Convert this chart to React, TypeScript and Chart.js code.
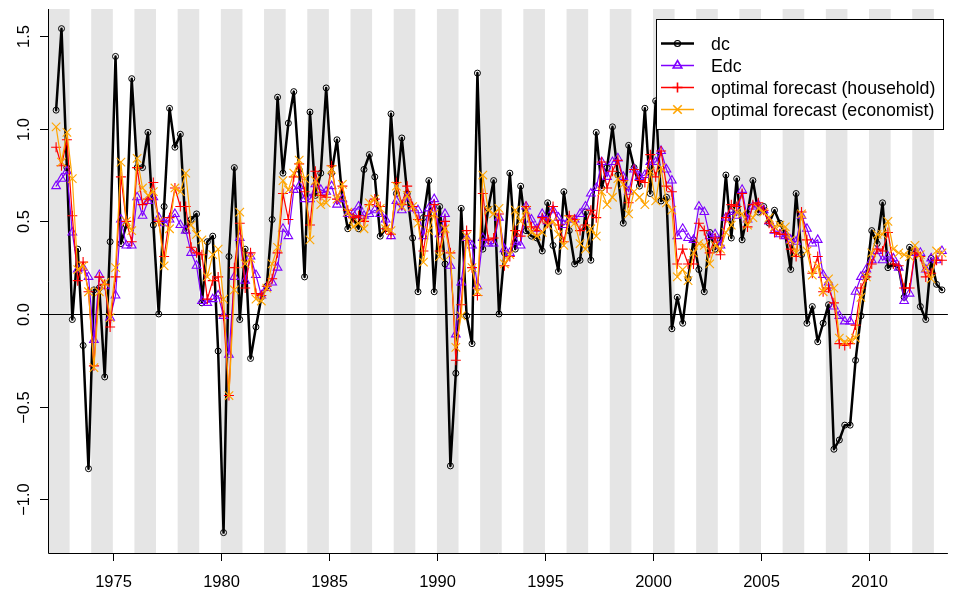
import React, { useEffect, useRef } from "react";
import { Chart, registerables } from "chart.js";

Chart.register(...registerables);

// Quarterly series, 1972Q2 .. 2013Q2 (plotted at mid-quarter)
const START_YEAR = 1972;
const START_QUARTER = 2;

const dc = [
  1.10, 1.54, 0.79,
  -0.03, 0.35, -0.17, -0.835,
  0.13, 0.14, -0.34, 0.39,
  1.39, 0.38, 0.48, 1.27,
  0.79, 0.79, 0.98, 0.48,
  0.00, 0.58, 1.11, 0.90,
  0.97, 0.45, 0.51, 0.54,
  0.06, 0.39, 0.42, -0.20,
  -1.18, 0.31, 0.79, -0.03,
  0.35, -0.24, -0.07, 0.09,
  0.15, 0.51, 1.17, 0.76,
  1.03, 1.20, 0.78, 0.20,
  1.09, 0.64, 0.76, 1.22,
  0.76, 0.94, 0.62, 0.46,
  0.52, 0.46, 0.78, 0.86,
  0.74, 0.42, 0.46, 1.08,
  0.65, 0.95, 0.65, 0.41,
  0.12, 0.52, 0.72, 0.12,
  0.58, 0.27, -0.82, -0.32,
  0.57, -0.01, -0.16, 1.30,
  0.35, 0.57, 0.72, 0.00,
  0.33, 0.76, 0.35, 0.69,
  0.45, 0.42, 0.41, 0.34,
  0.60, 0.37, 0.23, 0.66,
  0.45, 0.27, 0.29, 0.55,
  0.29, 0.98, 0.68, 0.79,
  1.01, 0.75, 0.49, 0.91,
  0.79, 0.69, 1.11, 0.65,
  1.15, 0.61, 0.63, -0.08,
  0.09, -0.05, 0.19, 0.40,
  0.24, 0.12, 0.44, 0.35,
  0.40, 0.75, 0.41, 0.73,
  0.40, 0.54, 0.72, 0.55,
  0.58, 0.49, 0.56, 0.49,
  0.43, 0.24, 0.65, 0.32,
  -0.05, 0.04, -0.15, -0.05,
  0.05, -0.73, -0.68, -0.60,
  -0.60, -0.25, -0.01, 0.20,
  0.45, 0.38, 0.60, 0.25,
  0.27, 0.25, 0.09, 0.36,
  0.33, 0.04, -0.03, 0.30,
  0.16, 0.13,
];

const Edc = [
  0.69, 0.73, 0.77,
  0.44, 0.24, 0.25, 0.20,
  -0.14, 0.21, 0.15, -0.02,
  0.10, 0.51, 0.37, 0.37,
  0.63, 0.53, 0.61, 0.63,
  0.52, 0.49, 0.51, 0.54,
  0.48, 0.45, 0.33, 0.26,
  0.07, 0.06, 0.08, 0.10,
  -0.01, -0.22, 0.20, 0.41,
  0.18, 0.31, 0.21, 0.10,
  0.14, 0.17, 0.25, 0.46,
  0.42, 0.67, 0.69, 0.62,
  0.62, 0.70, 0.67, 0.66,
  0.69, 0.59, 0.62, 0.54,
  0.54, 0.58, 0.53, 0.54,
  0.56, 0.54, 0.51, 0.42,
  0.61, 0.56, 0.63, 0.57,
  0.56, 0.42, 0.57, 0.62,
  0.43, 0.54, 0.26, -0.11,
  0.17, 0.41, 0.37, 0.15,
  0.41, 0.38, 0.38, 0.52,
  0.35, 0.33, 0.39, 0.37,
  0.58, 0.51, 0.46, 0.54,
  0.50, 0.56, 0.52, 0.48,
  0.51, 0.51, 0.54, 0.58,
  0.65, 0.68, 0.82, 0.74,
  0.82, 0.84, 0.74, 0.66,
  0.78, 0.74, 0.75, 0.82,
  0.82, 0.88, 0.78, 0.72,
  0.42, 0.46, 0.41, 0.40,
  0.58, 0.55, 0.42, 0.43,
  0.37, 0.52, 0.55, 0.53,
  0.67, 0.51, 0.58, 0.59,
  0.56, 0.50, 0.45, 0.43,
  0.42, 0.40, 0.39, 0.53,
  0.46, 0.38, 0.40, 0.21,
  0.17, 0.04, -0.01, -0.04,
  -0.04, 0.12, 0.20, 0.24,
  0.29, 0.34, 0.29, 0.31,
  0.30, 0.25, 0.07, 0.11,
  0.33, 0.33, 0.24, 0.30,
  0.29, 0.34,
];

const household = [
  0.90, 0.80, 0.94,
  0.53, 0.18, 0.28, 0.12,
  -0.28, 0.20, 0.16, -0.07,
  0.20, 0.74, 0.50, 0.39,
  0.79, 0.59, 0.62, 0.71,
  0.50, 0.31, 0.52, 0.68,
  0.58, 0.58, 0.36, 0.33,
  0.32, 0.08, 0.18, 0.20,
  -0.01, -0.44, 0.25, 0.49,
  0.14, 0.33, 0.11, 0.10,
  0.15, 0.19, 0.33, 0.65,
  0.51, 0.74, 0.81, 0.66,
  0.48, 0.77, 0.64, 0.63,
  0.80, 0.62, 0.69, 0.56,
  0.52, 0.53, 0.50, 0.59,
  0.62, 0.58, 0.46, 0.43,
  0.71, 0.59, 0.69, 0.58,
  0.51, 0.34, 0.53, 0.59,
  0.34, 0.50, 0.33, -0.25,
  0.05, 0.45, 0.25, 0.10,
  0.65, 0.40, 0.41, 0.54,
  0.26, 0.31, 0.45, 0.42,
  0.58, 0.47, 0.45, 0.52,
  0.49, 0.58, 0.48, 0.39,
  0.53, 0.51, 0.45, 0.48,
  0.56, 0.52, 0.82, 0.68,
  0.77, 0.83, 0.72, 0.60,
  0.78, 0.72, 0.71, 0.86,
  0.74, 0.88, 0.69, 0.66,
  0.27, 0.35, 0.27, 0.27,
  0.49, 0.45, 0.33, 0.41,
  0.32, 0.52, 0.59, 0.58,
  0.65, 0.47, 0.59, 0.60,
  0.56, 0.49, 0.44, 0.43,
  0.43, 0.35, 0.31, 0.55,
  0.40, 0.22, 0.31, 0.12,
  0.14, 0.06, -0.16, -0.17,
  -0.16, -0.06, 0.14, 0.20,
  0.27, 0.35, 0.34, 0.44,
  0.27, 0.26, 0.14, 0.14,
  0.33, 0.31, 0.20, 0.22,
  0.29, 0.29,
];

const economist = [
  1.01, 0.82, 0.98,
  0.73, 0.24, 0.26, 0.12,
  -0.29, 0.12, 0.17, -0.02,
  0.25, 0.82, 0.50, 0.45,
  0.84, 0.68, 0.64, 0.66,
  0.50, 0.26, 0.46, 0.68,
  0.66, 0.76, 0.48, 0.43,
  0.40, 0.20, 0.32, 0.35,
  0.08, -0.44, 0.13, 0.55,
  0.27, 0.30, 0.08, 0.07,
  0.14, 0.27, 0.36, 0.72,
  0.67, 0.76, 0.83, 0.73,
  0.40, 0.72, 0.59, 0.60,
  0.78, 0.62, 0.70, 0.55,
  0.47, 0.49, 0.46, 0.60,
  0.62, 0.57, 0.46, 0.45,
  0.69, 0.58, 0.64, 0.58,
  0.49, 0.28, 0.45, 0.54,
  0.31, 0.46, 0.32, -0.18,
  -0.01, 0.42, 0.25, 0.12,
  0.75, 0.56, 0.54, 0.57,
  0.27, 0.32, 0.56, 0.50,
  0.56, 0.44, 0.42, 0.44,
  0.48, 0.50, 0.43, 0.37,
  0.51, 0.49, 0.38, 0.35,
  0.46, 0.42, 0.66, 0.59,
  0.63, 0.73, 0.70, 0.54,
  0.66, 0.63, 0.59, 0.77,
  0.61, 0.79, 0.60, 0.56,
  0.20, 0.24, 0.18, 0.33,
  0.38, 0.37, 0.27, 0.37,
  0.35, 0.44, 0.48, 0.55,
  0.54, 0.48, 0.52, 0.57,
  0.55, 0.52, 0.47, 0.48,
  0.47, 0.40, 0.33, 0.54,
  0.34, 0.21, 0.26, 0.12,
  0.19, 0.14, -0.13, -0.15,
  -0.14, -0.13, 0.09, 0.20,
  0.33, 0.43, 0.43, 0.50,
  0.35, 0.33, 0.32, 0.31,
  0.37, 0.32, 0.25, 0.19,
  0.34, 0.33,
];

const xTicks = [1975, 1980, 1985, 1990, 1995, 2000, 2005, 2010];
const yTicks = [-1.0, -0.5, 0.0, 0.5, 1.0, 1.5];
const yTickLabels = ["\u22121.0", "\u22120.5", "0.0", "0.5", "1.0", "1.5"];
const shadedYears = [
  1972, 1974, 1976, 1978, 1980, 1982, 1984, 1986, 1988, 1990, 1992,
  1994, 1996, 1998, 2000, 2002, 2004, 2006, 2008, 2010, 2012,
];
const legendLabels = [
  "dc",
  "Edc",
  "optimal forecast (household)",
  "optimal forecast (economist)",
];

const X_MIN = 1972;
const X_MAX = 2013.65;
const Y_MIN = -1.29;
const Y_MAX = 1.646;

const COLORS = ["#000000", "#7F00FF", "#FF0000", "#FFA500"];
const STYLES = ["circle", "triangle", "cross", "crossRot"];
const RADII = [3, 5, 5, 6];
const LINE_W = [2.5, 1.2, 1.2, 1.2];
const AXIS_FONT = '16.5px "Liberation Sans", Arial, sans-serif';
const LEGEND_FONT = '17.8px "Liberation Sans", Arial, sans-serif';

function toPoints(values: number[]) {
  return values.map((v, i) => ({
    x: START_YEAR + (START_QUARTER - 1 + i) / 4 + 0.125,
    y: v,
  }));
}

function drawMarker(ctx: CanvasRenderingContext2D, style: string, x: number, y: number, r: number) {
  ctx.beginPath();
  if (style === "circle") {
    ctx.arc(x, y, r, 0, Math.PI * 2);
  } else if (style === "triangle") {
    for (let k = 0; k < 3; k++) {
      const a = (k * 2 * Math.PI) / 3;
      const px = x + Math.sin(a) * r;
      const py = y - Math.cos(a) * r;
      if (k === 0) ctx.moveTo(px, py);
      else ctx.lineTo(px, py);
    }
    ctx.closePath();
  } else if (style === "cross") {
    ctx.moveTo(x, y - r);
    ctx.lineTo(x, y + r);
    ctx.moveTo(x - r, y);
    ctx.lineTo(x + r, y);
  } else {
    const d = Math.cos(Math.PI / 4) * r;
    ctx.moveTo(x - d, y - d);
    ctx.lineTo(x + d, y + d);
    ctx.moveTo(x + d, y - d);
    ctx.lineTo(x - d, y + d);
  }
  ctx.stroke();
}

const decorPlugin = {
  id: "decor",
  beforeDatasetsDraw(chart: any) {
    const { ctx, chartArea: a, scales } = chart;
    const xs = scales.x;
    const ys = scales.y;
    ctx.save();
    ctx.fillStyle = "#E5E5E5";
    for (const yr of shadedYears) {
      const l = Math.max(xs.getPixelForValue(yr), a.left);
      const r = Math.min(xs.getPixelForValue(yr + 1), a.right);
      if (r > l) ctx.fillRect(l, a.top, r - l, a.bottom - a.top);
    }
    const y0 = Math.round(ys.getPixelForValue(0)) + 0.5;
    ctx.strokeStyle = "#000";
    ctx.lineWidth = 1;
    ctx.beginPath();
    ctx.moveTo(a.left, y0);
    ctx.lineTo(a.right, y0);
    ctx.stroke();
    ctx.restore();
  },
  afterDatasetsDraw(chart: any) {
    const { ctx, chartArea: a, scales } = chart;
    const xs = scales.x;
    const ys = scales.y;
    ctx.save();
    ctx.strokeStyle = "#000";
    ctx.lineWidth = 1;
    // axis lines (L-shaped frame)
    ctx.beginPath();
    ctx.moveTo(a.left + 0.5, a.top);
    ctx.lineTo(a.left + 0.5, a.bottom + 0.5);
    ctx.lineTo(a.right, a.bottom + 0.5);
    ctx.stroke();

    ctx.fillStyle = "#000";
    ctx.font = AXIS_FONT;
    // x ticks
    ctx.textAlign = "center";
    ctx.textBaseline = "alphabetic";
    for (const t of xTicks) {
      const px = Math.round(xs.getPixelForValue(t)) + 0.5;
      ctx.beginPath();
      ctx.moveTo(px, a.bottom);
      ctx.lineTo(px, a.bottom + 8);
      ctx.stroke();
      ctx.fillText(String(t), px, 587);
    }
    // y ticks (rotated labels)
    yTicks.forEach((t, i) => {
      const py = Math.round(ys.getPixelForValue(t)) + 0.5;
      ctx.beginPath();
      ctx.moveTo(a.left - 8, py);
      ctx.lineTo(a.left, py);
      ctx.stroke();
      ctx.save();
      ctx.translate(29, py);
      ctx.rotate(-Math.PI / 2);
      ctx.textAlign = "center";
      ctx.fillText(yTickLabels[i], 0, 0);
      ctx.restore();
    });

    // legend
    const L = 656.5, T = 19.5, R = 943.5, B = 129.5;
    ctx.fillStyle = "#fff";
    ctx.fillRect(L, T, R - L, B - T);
    ctx.strokeStyle = "#000";
    ctx.lineWidth = 1;
    ctx.strokeRect(L, T, R - L, B - T);
    ctx.font = LEGEND_FONT;
    ctx.textAlign = "left";
    legendLabels.forEach((lab, i) => {
      const cy = Math.round(43 + i * 22) + 0.5;
      ctx.strokeStyle = COLORS[i];
      ctx.lineWidth = i === 0 ? 2.5 : 1.6;
      ctx.beginPath();
      ctx.moveTo(661, cy);
      ctx.lineTo(694, cy);
      ctx.stroke();
      ctx.lineWidth = i === 0 ? 1.2 : 1.6;
      drawMarker(ctx, STYLES[i], 677.5, cy, RADII[i]);
      ctx.fillStyle = "#000";
      ctx.fillText(lab, 711, cy + 6.5);
    });
    ctx.restore();
  },
};

export default function App() {
  const canvasRef = useRef<HTMLCanvasElement | null>(null);

  useEffect(() => {
    if (!canvasRef.current) return;
    const series = [dc, Edc, household, economist];
    const chart = new Chart(canvasRef.current, {
      type: "line",
      data: {
        datasets: series.map((vals, i) => ({
          label: legendLabels[i],
          data: toPoints(vals),
          borderColor: COLORS[i],
          borderWidth: LINE_W[i],
          borderJoinStyle: "round" as const,
          borderCapStyle: "round" as const,
          pointStyle: STYLES[i] as any,
          pointRadius: RADII[i],
          pointBorderColor: COLORS[i],
          pointBackgroundColor: "rgba(0,0,0,0)",
          pointBorderWidth: i === 0 ? 1 : 1.1,
          tension: 0,
          fill: false,
          order: 4 - i,
        })),
      },
      options: {
        animation: false,
        responsive: false,
        devicePixelRatio: 1,
        events: [],
        layout: { padding: { left: 48, top: 9, right: 0, bottom: 37 } },
        plugins: { legend: { display: false }, tooltip: { enabled: false } },
        scales: {
          x: { type: "linear", min: X_MIN, max: X_MAX, display: false },
          y: { type: "linear", min: Y_MIN, max: Y_MAX, display: false },
        },
      },
      plugins: [decorPlugin],
    });
    return () => chart.destroy();
  }, []);

  return (
    <div style={{ position: "fixed", left: 0, top: 0, width: 955, height: 590, background: "#fff" }}>
      <canvas ref={canvasRef} width={955} height={590} style={{ display: "block" }} />
    </div>
  );
}
